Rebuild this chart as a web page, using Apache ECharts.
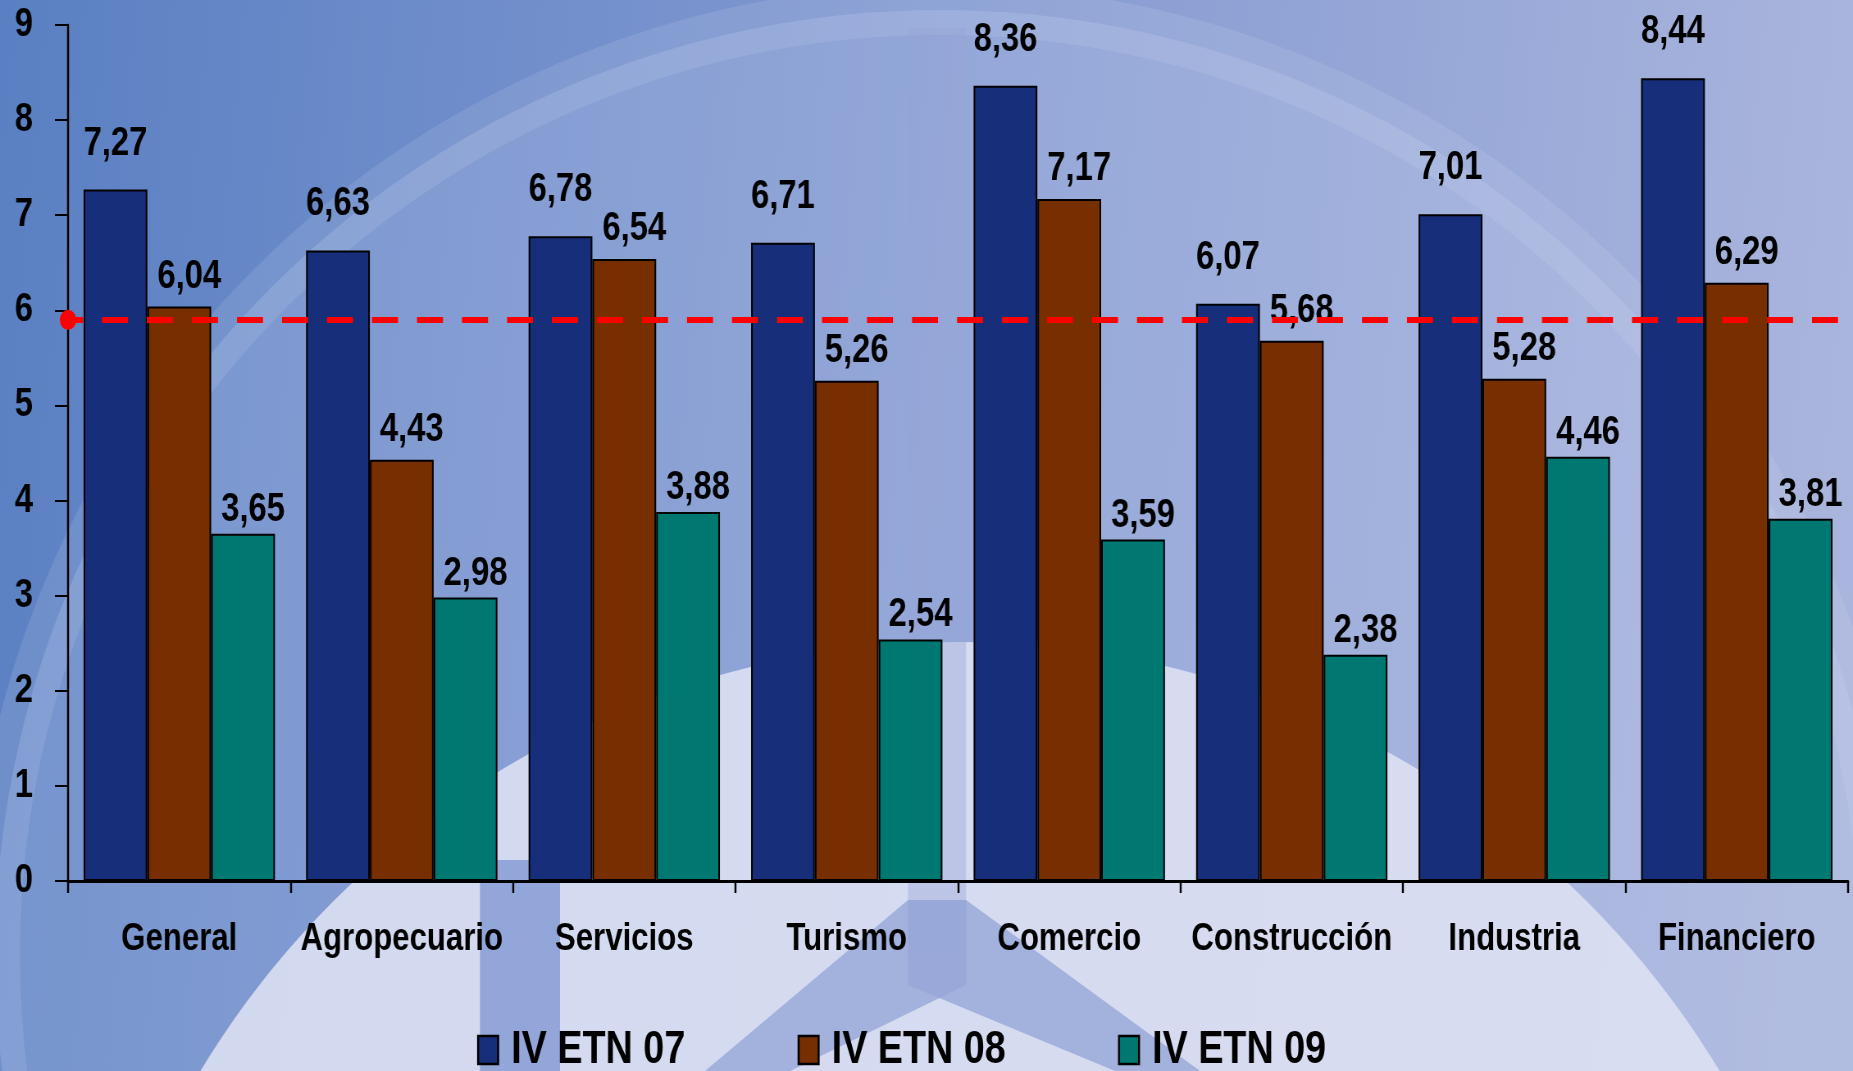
<!DOCTYPE html>
<html>
<head>
<meta charset="utf-8">
<script src="https://cdn.jsdelivr.net/npm/echarts@6/dist/echarts.min.js"></script>
<style>
html,body{margin:0;padding:0;width:1853px;height:1071px;overflow:hidden;background:#7d94cf;}
#chart{width:2260px;height:1071px;transform:scaleX(0.8199115);transform-origin:0 0;}
</style>
</head>
<body>
<div id="chart"></div>
<script>
const categories = ['General','Agropecuario','Servicios','Turismo','Comercio','Construcción','Industria','Financiero'];
const seriesNames = ['IV ETN 07','IV ETN 08','IV ETN 09'];
const etn07 = [7.27, 6.63, 6.78, 6.71, 8.36, 6.07, 7.01, 8.44];
const etn08 = [6.04, 4.43, 6.54, 5.26, 7.17, 5.68, 5.28, 6.29];
const etn09 = [3.65, 2.98, 3.88, 2.54, 3.59, 2.38, 4.46, 3.81];
const referenceValue = [5.9];
const yTicks = [0,1,2,3,4,5,6,7,8,9];

// The chart is drawn on a wider canvas and squeezed horizontally by CSS
// to imitate the narrow bold typeface of the original.
const S = 1853 / 2260;
const FONT = '"Liberation Sans", Arial, sans-serif';
const colors = ['#172e7a', '#772e00', '#007872'];
const labelDist = [26, 10, 4];
const labelDx = [0, 10 / S, 10 / S];

const chart = echarts.init(document.getElementById('chart'), null, {renderer:'canvas', width: 2260, height: 1071});

function mkSeries(i, values) {
  const s = {
    name: seriesNames[i],
    type: 'bar',
    data: values,
    barGap: '0%',
    barCategoryGap: '14%',
    itemStyle: {color: colors[i], borderColor: '#000', borderWidth: 2},
    label: {
      show: true, position: 'top', distance: labelDist[i], offset: [labelDx[i], 0],
      color: '#000', fontFamily: FONT, fontWeight: 'bold', fontSize: 40,
      formatter: p => p.value.toFixed(2).replace('.', ',')
    },
    emphasis: {disabled: true},
    z: 3
  };
  if (i === 0) {
    s.markLine = {
      silent: true,
      symbol: ['circle', 'none'],
      symbolSize: [20 / S, 20],
      label: {show: false},
      lineStyle: {color: '#ff0000', width: 6, type: [26 / S, 19 / S], dashOffset: 11 / S, opacity: 1},
      emphasis: {disabled: true},
      data: [{yAxis: referenceValue[0]}],
      z: 10
    };
  }
  return s;
}

const legFill = 'rgba(150,166,216,0.8)';
const option = {
  animation: false,
  backgroundColor: {
    type: 'linear', x: 0, y: 0, x2: 1, y2: 0.25,
    colorStops: [
      {offset: 0, color: '#5a80c3'},
      {offset: 0.45, color: '#7f97d0'},
      {offset: 1, color: '#aab5dd'}
    ]
  },
  graphic: {
    elements: [{
      type: 'group', silent: true, z: -100, scaleX: 1 / S,
      children: [
        {type: 'circle', shape: {cx: 940, cy: 955, r: 945},
         style: {fill: 'rgba(205,212,240,0.22)', stroke: 'rgba(225,230,248,0.13)', lineWidth: 50}},
        {type: 'circle', shape: {cx: 960, cy: 1529, r: 887},
         style: {fill: 'rgba(222,225,242,0.88)'}},
        {type: 'rect', shape: {x: 480, y: 860, width: 80, height: 211},
         style: {fill: 'rgba(125,148,210,0.75)'}},
        {type: 'rect', shape: {x: 908, y: 28, width: 58, height: 930},
         style: {fill: 'rgba(150,166,216,0.4)'}},
        {type: 'polygon', shape: {points: [[908,900],[966,900],[966,985],[790,1071],[705,1071]]},
         style: {fill: legFill}},
        {type: 'polygon', shape: {points: [[908,900],[966,900],[1200,1071],[1115,1071],[908,985]]},
         style: {fill: legFill}}
      ]
    }]
  },
  grid: {left: 68 / S, right: 5 / S, top: 25, bottom: 190, containLabel: false},
  legend: {
    data: seriesNames,
    left: 473 / S, top: 1022,
    itemWidth: 20 / S, itemHeight: 28, itemGap: 137,
    icon: 'rect',
    itemStyle: {borderColor: '#000', borderWidth: 2.5},
    textStyle: {color: '#000', fontFamily: FONT, fontWeight: 'bold', fontSize: 46, padding: [0, 0, 0, 11]},
    selectedMode: false
  },
  xAxis: {
    type: 'category',
    data: categories,
    axisLine: {lineStyle: {color: '#000', width: 3}},
    axisTick: {show: true, length: 12, lineStyle: {color: '#000', width: 2 / S}},
    axisLabel: {color: '#000', fontFamily: FONT, fontWeight: 'bold', fontSize: 38, margin: 40, interval: 0}
  },
  yAxis: {
    type: 'value',
    min: yTicks[0], max: yTicks[yTicks.length - 1], interval: 1,
    axisLine: {show: true, lineStyle: {color: '#000', width: 2 / S}},
    axisTick: {show: true, length: 13 / S, lineStyle: {color: '#000', width: 2}},
    splitLine: {show: false},
    axisLabel: {color: '#000', fontFamily: FONT, fontWeight: 'bold', fontSize: 40, margin: 35 / S}
  },
  series: [mkSeries(0, etn07), mkSeries(1, etn08), mkSeries(2, etn09)]
};
chart.setOption(option);
</script>
</body>
</html>
